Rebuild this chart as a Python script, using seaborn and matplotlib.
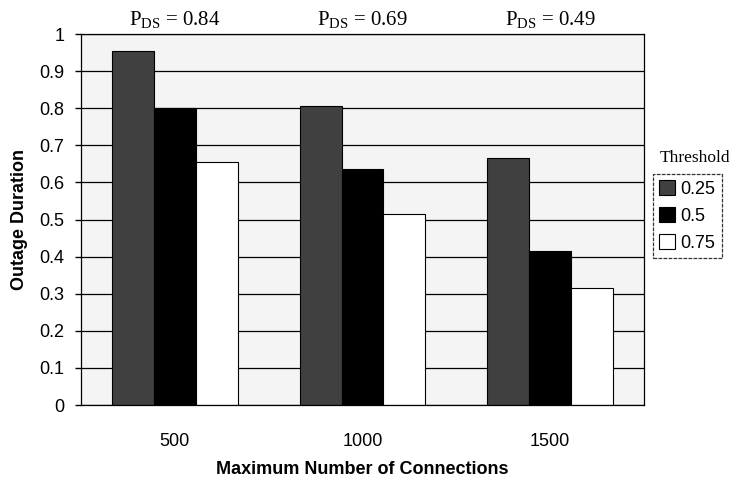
import matplotlib
matplotlib.use("Agg")
import matplotlib.pyplot as plt
import seaborn as sns
import pandas as pd
from matplotlib.patches import Patch

categories = ["500", "1000", "1500"]
thresholds = ["0.25", "0.5", "0.75"]
vals_025 = [0.955, 0.805, 0.665]
vals_05 = [0.80, 0.635, 0.415]
vals_075 = [0.655, 0.515, 0.315]
pds_labels = ["0.84", "0.69", "0.49"]
yticks = [0, 0.1, 0.2, 0.3, 0.4, 0.5, 0.6, 0.7, 0.8, 0.9, 1]
ytick_labels = ["0", "0.1", "0.2", "0.3", "0.4", "0.5", "0.6", "0.7", "0.8", "0.9", "1"]

rows = []
for t, vals in zip(thresholds, [vals_025, vals_05, vals_075]):
    for c, v in zip(categories, vals):
        rows.append({"conn": c, "thr": t, "val": v})
df = pd.DataFrame(rows)

sns.set_theme(style="white")
plt.rcParams["font.family"] = ["Liberation Sans", "DejaVu Sans"]
plt.rcParams["mathtext.fontset"] = "custom"
plt.rcParams["mathtext.rm"] = "Liberation Serif"
plt.rcParams["mathtext.it"] = "Liberation Serif:italic"
plt.rcParams["text.color"] = "black"
plt.rcParams["axes.labelcolor"] = "black"
plt.rcParams["xtick.color"] = "black"
plt.rcParams["ytick.color"] = "black"

colors = {"0.25": "#404040", "0.5": "#000000", "0.75": "#ffffff"}

fig = plt.figure(figsize=(7.35, 4.78), dpi=100)
ax = fig.add_axes([0.1102, 0.1527, 0.766, 0.776])
ax.set_facecolor("#f4f4f4")
ax.set_axisbelow(True)
ax.yaxis.grid(True, color="black", linewidth=0.9)

sns.barplot(data=df, x="conn", y="val", hue="thr", order=categories,
            hue_order=thresholds, palette=colors, edgecolor="black",
            linewidth=0.8, width=0.67, saturation=1, ax=ax, legend=False)

ax.set_ylim(0, 1)
ax.set_yticks(yticks)
ax.set_yticklabels(ytick_labels, fontsize=13)
ax.tick_params(axis="x", labelsize=13, pad=20, length=0)
ax.tick_params(axis="y", pad=8, length=4, left=True, width=1)
ax.set_xlabel("Maximum Number of Connections", fontsize=13, fontweight="bold", labelpad=8)
ax.set_ylabel("Outage Duration", fontsize=13, fontweight="bold", labelpad=8)
for s in ax.spines.values():
    s.set_color("black")
    s.set_linewidth(0.9)

for i, p in enumerate(pds_labels):
    ax.text(i, 1.01, r"$\mathrm{P_{DS}}$ = " + p, ha="center", va="bottom",
            fontsize=15, family="Liberation Serif", transform=ax.get_xaxis_transform())

handles = [Patch(facecolor=colors[t], edgecolor="black", linewidth=0.8, label=t) for t in thresholds]
leg = fig.legend(handles=handles, loc="upper left", bbox_to_anchor=(0.888, 0.636),
                 frameon=True, fontsize=13, handlelength=0.9, handleheight=0.9,
                 handletextpad=0.3, borderpad=0.35, labelspacing=0.5, fancybox=False,
                 borderaxespad=0)
leg.get_frame().set_edgecolor("black")
leg.get_frame().set_linestyle((0, (3, 1)))
leg.get_frame().set_linewidth(0.9)
fig.text(0.945, 0.669, "Threshold", ha="center", va="center", fontsize=12.5,
         family="Liberation Serif")

fig.savefig("out.png", dpi=100)
